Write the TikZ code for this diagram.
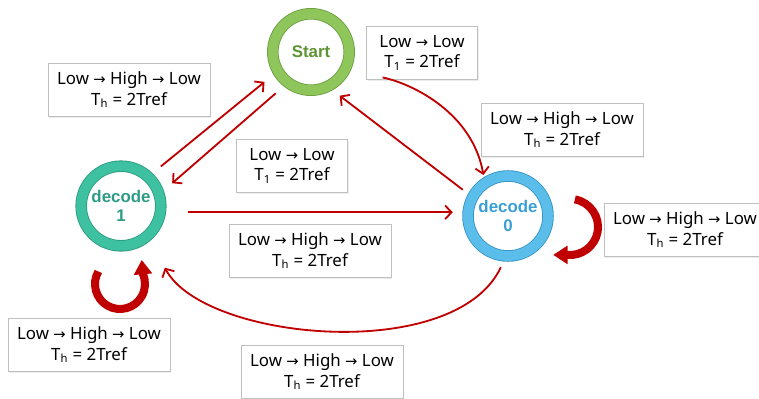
\documentclass[tikz,border=0pt]{standalone}
\usepackage{fontspec}
\setmainfont{Liberation Sans}
\newfontfamily\lblfont{Noto Sans}
\newfontfamily\arrfont{DejaVu Sans}
\usetikzlibrary{arrows.meta,shadows}
\definecolor{arrred}{HTML}{C00000}
\definecolor{boxgray}{HTML}{BFBFBF}
\definecolor{sring}{HTML}{8EC65C}
\definecolor{sedge}{HTML}{6A9E3E}
\definecolor{stext}{HTML}{5F9434}
\definecolor{oring}{HTML}{3EC1A1}
\definecolor{oedge}{HTML}{2A9A7E}
\definecolor{otext}{HTML}{2E9C84}
\definecolor{zring}{HTML}{5BBDE9}
\definecolor{zedge}{HTML}{3494C6}
\definecolor{ztext}{HTML}{3A9FD4}
\newcommand{\toarr}{{\arrfont\fontsize{10.5}{14}\selectfont →}}
\begin{document}
\begin{tikzpicture}[
    state/.style = {circle, minimum size=1.91cm, fill=white, line width=0.6pt, double distance=7pt,
                    align=center, font=\bfseries\fontsize{12}{14}\selectfont,
                    drop shadow={opacity=0.25, shadow xshift=0.6pt, shadow yshift=-1pt}},
    lbl/.style = {draw=boxgray, fill=white, align=center, minimum height=1.33cm, inner sep=2pt,
                  font=\lblfont\fontsize{12}{14.5}\selectfont,
                  drop shadow={opacity=0.15, shadow xshift=0.8pt, shadow yshift=-0.8pt}},
    widebox/.style = {lbl, minimum width=4.05cm},
    smallbox/.style = {lbl, minimum width=2.78cm},
    arr/.style = {draw=arrred, line width=1.3pt, -{Straight Barb[length=1.6mm,width=3.4mm]}},
    selfarr/.style = {draw=arrred, line width=0.2cm, -{Triangle[width=0.44cm,length=0.36cm]}}
]
\useasboundingbox (0,0) rectangle (18.975,9.95);

\node[state, draw=sedge, double=sring, text=stext] (S)  at (7.775,8.65) {Start};
\node[state, draw=oedge, double=oring, text=otext] (D1) at (3.025,4.8)  {decode\\1};
\node[state, draw=zedge, double=zring, text=ztext] (D0) at (12.7,4.55)  {decode\\0};

\node[widebox]  (d1s)  at (3.225,7.7)   {Low \toarr{} High \toarr{} Low\\T\textsubscript{h} = 2Tref};
\node[smallbox] (sd0)  at (10.55,8.625) {Low \toarr{} Low\\T\textsubscript{1} = 2Tref};
\node[widebox]  (d0s)  at (14.05,6.7)   {Low \toarr{} High \toarr{} Low\\T\textsubscript{h} = 2Tref};
\node[smallbox] (sd1)  at (7.3,5.8)     {Low \toarr{} Low\\T\textsubscript{1} = 2Tref};
\node[widebox]  (d1d0) at (7.75,3.675)  {Low \toarr{} High \toarr{} Low\\T\textsubscript{h} = 2Tref};
\node[widebox]  (d0d0) at (17.125,4.2)  {Low \toarr{} High \toarr{} Low\\T\textsubscript{h} = 2Tref};
\node[widebox]  (d1d1) at (2.225,1.325) {Low \toarr{} High \toarr{} Low\\T\textsubscript{h} = 2Tref};
\node[widebox]  (d0d1) at (8.05,0.65)   {Low \toarr{} High \toarr{} Low\\T\textsubscript{h} = 2Tref};

\draw[arr, shorten <=0.4cm, shorten >=0.42cm] (D1.47) -- (S.210);
\draw[arr, shorten <=0.4cm, shorten >=0.42cm] (S.233) -- (D1.17);
\draw[arr, shorten <=0.95cm, shorten >=0.2cm] (S.-27) to[out=-12, in=100] (D0.125);
\draw[arr, shorten <=0.3cm, shorten >=0.37cm] (D0.152) -- (S.-64);
\draw[arr, shorten <=0.68cm, shorten >=0.37cm] (D1.-9) -- (D1.-9 -| D0.west);
\draw[arr, shorten <=0.3cm, shorten >=0.9cm] (D0.-93) to[out=-115, in=-62, looseness=0.85] (D1.-48);

\draw[selfarr] ([shift={(-0.025,-1.95)}]D1.center) ++(150:0.625)
    arc[start angle=150, end angle=383, radius=0.625] -- ++(95:0.36);
\draw[selfarr] ([shift={(1.55,-0.275)}]D0.center) ++(80:0.7)
    arc[start angle=80, end angle=-95, radius=0.7] -- ++(180:0.36);
\end{tikzpicture}
\end{document}
